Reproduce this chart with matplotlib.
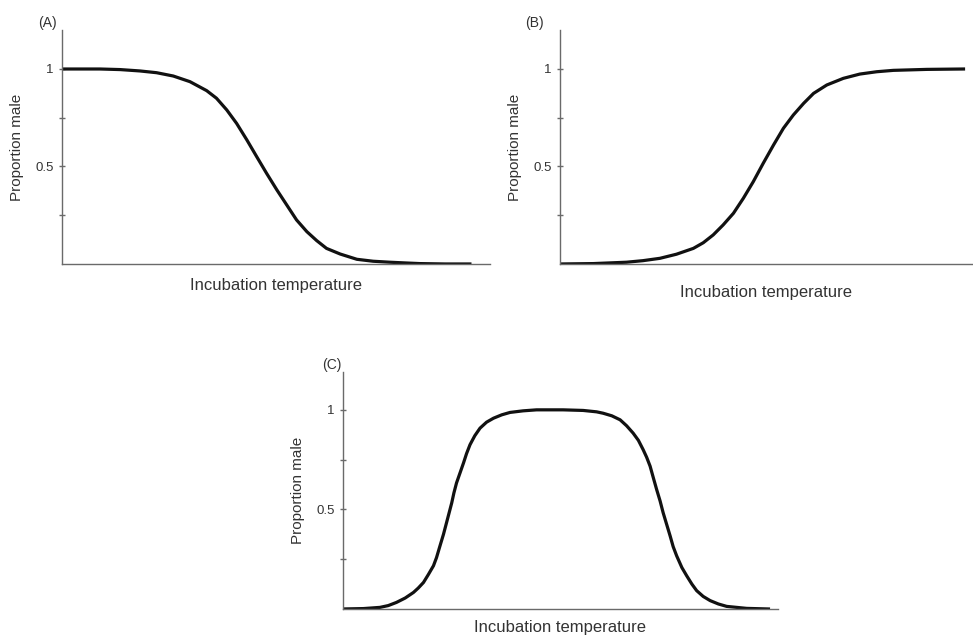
import numpy as np
import matplotlib.pyplot as plt

plt.rcParams['font.family'] = ['Liberation Sans', 'DejaVu Sans']

# (A) proportion male falls with temperature
temp_a = [0, 8.9, 13.6, 18.2, 22.1, 26.0, 29.9, 33.8, 36.1, 38.5, 40.8, 43.2, 45.5, 47.8,
          50.2, 52.5, 54.8, 57.2, 59.5, 61.8, 65.0, 68.9, 72.7, 76.6, 80.5, 83.6, 89.5, 95.3]
male_a = [1.0, 1.0, 0.997, 0.990, 0.981, 0.964, 0.935, 0.889, 0.850, 0.790, 0.721, 0.636,
          0.550, 0.465, 0.380, 0.303, 0.226, 0.166, 0.120, 0.080, 0.051, 0.024, 0.014,
          0.009, 0.005, 0.002, 0.0, 0.0]

# (B) proportion male rises with temperature
temp_b = [0, 8.1, 16.1, 20.1, 24.2, 28.2, 32.3, 34.7, 37.1, 39.5, 42.0, 44.4, 46.8, 49.2,
          51.7, 54.1, 56.5, 59.0, 61.4, 64.6, 68.6, 72.6, 76.7, 80.7, 88.8, 97.7]
male_b = [0.0, 0.002, 0.009, 0.017, 0.029, 0.050, 0.080, 0.109, 0.149, 0.200, 0.260, 0.337,
          0.422, 0.516, 0.610, 0.696, 0.764, 0.824, 0.875, 0.918, 0.952, 0.974, 0.986,
          0.993, 0.998, 1.0]

# (C) males only at intermediate temperatures
temp_c = [0, 4.7, 8.5, 10.4, 12.3, 14.3, 16.2, 17.3, 18.5, 19.6, 20.8, 21.5, 22.3, 23.1,
          23.8, 24.4, 25.0, 25.5, 26.1, 26.9, 27.7, 28.4, 29.2, 30.3, 31.5, 33.0, 34.6,
          36.5, 38.4, 41.4, 44.5, 50.6,
          55.2, 58.3, 59.8, 61.8, 63.7, 65.2, 66.7, 67.9, 69.0, 69.8, 70.6, 71.3, 72.1,
          72.9, 73.6, 74.4, 75.2, 75.9, 76.7, 77.9, 79.0, 80.2, 81.3, 82.8, 84.4, 86.3,
          88.2, 92.8, 97.8]
male_c = [0.0, 0.002, 0.008, 0.017, 0.033, 0.055, 0.083, 0.105, 0.133, 0.172, 0.217, 0.258,
          0.317, 0.375, 0.433, 0.483, 0.533, 0.583, 0.633, 0.683, 0.733, 0.780, 0.825,
          0.870, 0.908, 0.938, 0.958, 0.975, 0.987, 0.995, 1.0, 1.0,
          0.997, 0.990, 0.983, 0.970, 0.950, 0.920, 0.883, 0.847, 0.800, 0.762, 0.717,
          0.662, 0.600, 0.542, 0.483, 0.425, 0.367, 0.313, 0.267, 0.208, 0.167, 0.125,
          0.092, 0.063, 0.042, 0.025, 0.013, 0.003, 0.0]

yticks = [0.25, 0.5, 0.75, 1.0]
ytick_labels = ['', '0.5', '', '1']

fig = plt.figure(figsize=(9.73, 6.37), dpi=100)

# tag, x, y, axes rect, y max, xlabel pad, tag x offset (axes fraction)
panels = [
    ('(A)', temp_a, male_a, [0.0637, 0.5856, 0.4399, 0.3673], 1.2, 10, -0.056),
    ('(B)', temp_b, male_b, [0.5755, 0.5856, 0.4245, 0.3673], 1.2, 15, -0.085),
    ('(C)', temp_c, male_c, [0.3525, 0.0440, 0.4471, 0.3720], 1.19, 8, -0.048),
]

axis_col = '#6a6a6a'
text_col = '#333333'

for tag, x, y, rect, ytop, xpad, tag_x in panels:
    ax = fig.add_axes(rect)
    ax.plot(x, y, color='#111111', lw=2.3, solid_joinstyle='round')
    ax.set_xlim(0, 100)
    ax.set_ylim(0, ytop)
    for s in ['top', 'right']:
        ax.spines[s].set_visible(False)
    for s in ['left', 'bottom']:
        ax.spines[s].set_color(axis_col)
        ax.spines[s].set_linewidth(1.0)
    ax.set_xticks([])
    ax.set_yticks(yticks)
    ax.set_yticklabels(ytick_labels)
    ax.tick_params(axis='y', direction='inout', length=4, width=1, color=axis_col,
                   labelsize=9.5, labelcolor=text_col, pad=4)
    ax.set_ylabel('Proportion male', fontsize=11, color=text_col, labelpad=8)
    ax.set_xlabel('Incubation temperature', fontsize=12, color=text_col, labelpad=xpad)
    ax.text(tag_x, 1.0, tag, transform=ax.transAxes, fontsize=10, color=text_col,
            ha='left', va='bottom')

fig.savefig('out.png', dpi=100)
